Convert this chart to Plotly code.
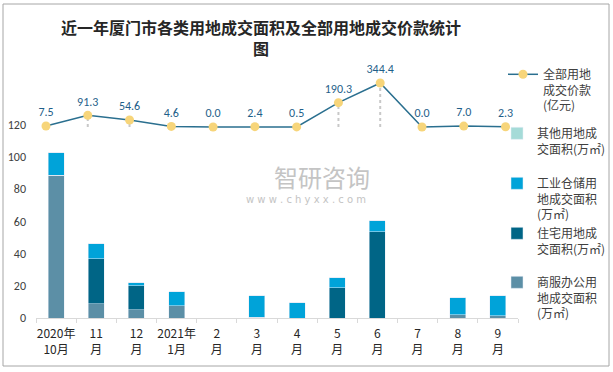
import plotly.graph_objects as go

categories = ["2020年<br>10月", "11<br>月", "12<br>月", "2021年<br>1月", "2<br>月", "3<br>月",
              "4<br>月", "5<br>月", "6<br>月", "7<br>月", "8<br>月", "9<br>月"]
price_total = [7.5, 91.3, 54.6, 4.6, 0.0, 2.4, 0.5, 190.3, 344.4, 0.0, 7.0, 2.3]
area_commercial = [88.6, 8.9, 5.2, 7.6, 0, 0.5, 0, 0, 0, 0, 2.1, 1.5]
area_residential = [0, 27.9, 14.8, 0, 0, 0, 0, 18.7, 53.6, 0, 0, 0]
area_industrial = [13.9, 9.3, 1.9, 8.7, 0, 13.3, 9.5, 6.2, 6.8, 0, 10.5, 12.3]
area_other = [0, 0, 0, 0, 0, 0, 0, 0, 0, 0, 0, 0]
y_ticks = [0, 20, 40, 60, 80, 100, 120]

W, H = 613, 372
L, R, T, B = 36, 95, 60, 54
PH = H - T - B
PW = W - L - R


def py(px):
    return (H - B - px) / PH


def pxx(px):
    return (px - L) / PW


font_cjk = "Noto Sans CJK SC, Microsoft YaHei, sans-serif"
font_num = "Calibri, Carlito, Liberation Sans, sans-serif"

fig = go.Figure()

fig.add_trace(go.Bar(x=categories, y=area_commercial, name="商服办公用<br>地成交面积<br>(万㎡)",
                     marker_color="#5C8FA6", legend="legend5"))
fig.add_trace(go.Bar(x=categories, y=area_residential, name="住宅用地成<br>交面积(万㎡)",
                     marker_color="#006586", legend="legend4"))
fig.add_trace(go.Bar(x=categories, y=area_industrial, name="工业仓储用<br>地成交面积<br>(万㎡)",
                     marker_color="#00A3D9", legend="legend3"))
fig.add_trace(go.Bar(x=categories, y=area_other, name="其他用地成<br>交面积(万㎡)",
                     marker_color="#A5DBD8", legend="legend2"))

# drop lines from line points
dx, dy = [], []
for c, v in zip(categories, price_total):
    dx += [c, c, None]
    dy += [0, v, None]
fig.add_trace(go.Scatter(x=dx, y=dy, xaxis="x2", yaxis="y2", mode="lines",
                         line=dict(color="#C8C8C8", width=2, dash="dot"),
                         showlegend=False, hoverinfo="skip"))

fig.add_trace(go.Scatter(x=categories, y=price_total, xaxis="x2", yaxis="y2",
                         mode="lines+markers+text", name="全部用地<br>成交价款<br>(亿元)",
                         line=dict(color="#2A6F8F", width=1.5),
                         marker=dict(color="#F7D57A", size=9),
                         text=[f"{v:.1f}" for v in price_total], textposition="top center",
                         textfont=dict(color="#1F5F8A", size=12, family=font_num),
                         legend="legend"))

leg_common = dict(font=dict(family=font_cjk, size=12, color="#404040"), bgcolor="rgba(0,0,0,0)",
                  valign="top", xanchor="left", yanchor="top", tracegroupgap=0)

fig.update_layout(
    width=W, height=H,
    margin=dict(l=L, r=R, t=T, b=B, autoexpand=False),
    paper_bgcolor="white", plot_bgcolor="white",
    barmode="stack", bargap=0.6,
    title=dict(text="近一年厦门市各类用地成交面积及全部用地成交价款统计<br>图",
               font=dict(family=font_cjk, size=16, color="#262626", weight="bold"),
               x=261 / W, xanchor="center", xref="container",
               y=1 - 34 / H, yanchor="top", yref="container"),
    xaxis=dict(type="category", categoryarray=categories, range=[-0.5, 11.5],
               showline=True, linecolor="#D9D9D9", linewidth=1,
               ticks="outside", tickson="boundaries", ticklen=4, tickcolor="#D9D9D9",
               tickangle=0, automargin=False, ticklabelstandoff=5,
               tickfont=dict(family=font_cjk, size=12, color="#262626"), showgrid=False),
    yaxis=dict(range=[0, PH / 1.61], tickvals=y_ticks, showgrid=False, zeroline=False,
               tickfont=dict(family=font_num, size=12, color="#404040"),
               ticks="", showline=False, automargin=False, ticklabelstandoff=9),
    xaxis2=dict(type="category", categoryarray=categories, overlaying="x",
                range=[-0.239, 11.298], visible=False, automargin=False),
    yaxis2=dict(overlaying="y", range=[-(H - B - 127) / 0.1278, (127 - T) / 0.1278],
                visible=False, automargin=False),
    legend=dict(x=pxx(503), y=py(60), **leg_common),
    legend2=dict(x=pxx(497), y=py(119), **leg_common),
    legend3=dict(x=pxx(497), y=py(169), **leg_common),
    legend4=dict(x=pxx(497), y=py(219), **leg_common),
    legend5=dict(x=pxx(497), y=py(268), **leg_common),
    showlegend=True,
)

# watermark
fig.add_annotation(text="智研咨询", xref="paper", yref="paper",
                   x=pxx(322), y=py(176), showarrow=False,
                   font=dict(family=font_cjk, size=24, color="#C4C4C4"))
fig.add_annotation(text="w w w . c h y x x . c o m", xref="paper", yref="paper",
                   x=pxx(306), y=py(199), showarrow=False,
                   font=dict(family="DejaVu Sans, sans-serif", size=10, color="#C4C4C4"))

# chart border
fig.add_shape(type="rect", xref="paper", yref="paper",
              x0=pxx(3), x1=pxx(609), y0=py(366), y1=py(4),
              line=dict(color="#A6A6A6", width=1), layer="below")

fig.write_html("out.html", config={"displayModeBar": False},
               post_script="document.body.style.margin='0px';")
